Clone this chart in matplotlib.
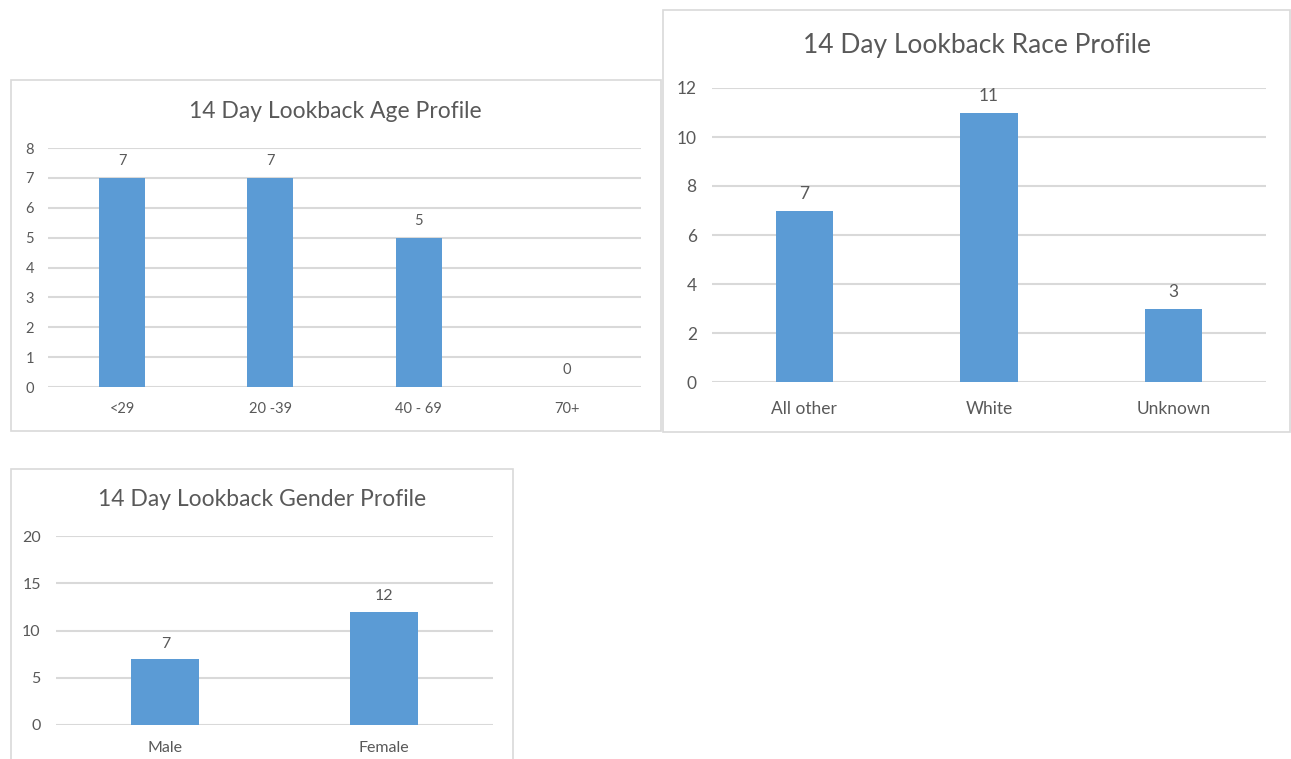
import matplotlib
matplotlib.use("Agg")
import matplotlib.pyplot as plt
from matplotlib.patches import Rectangle

# data
age_cats = ["<29", "20 -39", "40 - 69", "70+"]
age_vals = [7, 7, 5, 0]
race_cats = ["All other", "White", "Unknown"]
race_vals = [7, 11, 3]
gender_cats = ["Male", "Female"]
gender_vals = [7, 12]

W, H = 1291, 759
BAR = "#5B9BD5"
GRID = "#D9D9D9"
TXT = "#595959"

plt.rcParams['font.family'] = ['Lato', 'DejaVu Sans']

fig = plt.figure(figsize=(W / 100, H / 100), dpi=100)


def frame(x0, y0, x1, y1):
    # chart border, pixel coords from top-left
    r = Rectangle((x0 / W, 1 - y1 / H), (x1 - x0) / W, (y1 - y0) / H,
                  transform=fig.transFigure, fill=False, edgecolor=GRID, lw=1.2)
    fig.add_artist(r)


def panel(box, cats, vals, ymax, step, title, title_xy, title_size, fs, ypad, xpad, lab_off):
    x0, y0, x1, y1 = box
    ax = fig.add_axes([x0 / W, 1 - y1 / H, (x1 - x0) / W, (y1 - y0) / H])
    xs = range(len(cats))
    ax.bar(xs, vals, width=0.31, color=BAR, zorder=3)
    ax.set_xlim(-0.5, len(cats) - 0.5)
    ax.set_ylim(0, ymax)
    ax.set_yticks(range(0, ymax + 1, step))
    ax.set_xticks(list(xs))
    ax.set_xticklabels(cats)
    for s in ax.spines.values():
        s.set_visible(False)
    ax.yaxis.grid(True, color=GRID, lw=1.5, zorder=0)
    ax.set_axisbelow(True)
    ax.tick_params(length=0, colors=TXT, labelsize=fs)
    ax.tick_params(axis='y', pad=ypad)
    ax.tick_params(axis='x', pad=xpad)
    ax.set_facecolor('none')
    for x, v in zip(xs, vals):
        ax.annotate(str(v), (x, v), xytext=(0, lab_off), textcoords='offset points',
                    ha='center', va='bottom', color=TXT, fontsize=fs)
    fig.text(title_xy[0] / W, 1 - title_xy[1] / H, title, ha='center', va='center',
             color=TXT, fontsize=title_size)
    return ax


frame(11, 80, 661, 431)
frame(663, 10, 1290, 432)
frame(11, 469, 513, 770)

panel((48, 148, 641, 387), age_cats, age_vals, 8, 1,
      "14 Day Lookback Age Profile", (335, 111), 16.5, 10.5, 10, 11, 7)
panel((712, 88, 1266, 382), race_cats, race_vals, 12, 2,
      "14 Day Lookback Race Profile", (977, 45), 19, 12.5, 11, 13.5, 6)
panel((56, 536, 493, 725), gender_cats, gender_vals, 20, 5,
      "14 Day Lookback Gender Profile", (262, 499), 16.5, 11.5, 11, 11.5, 6)

fig.savefig("out.png", dpi=100, facecolor="white")
